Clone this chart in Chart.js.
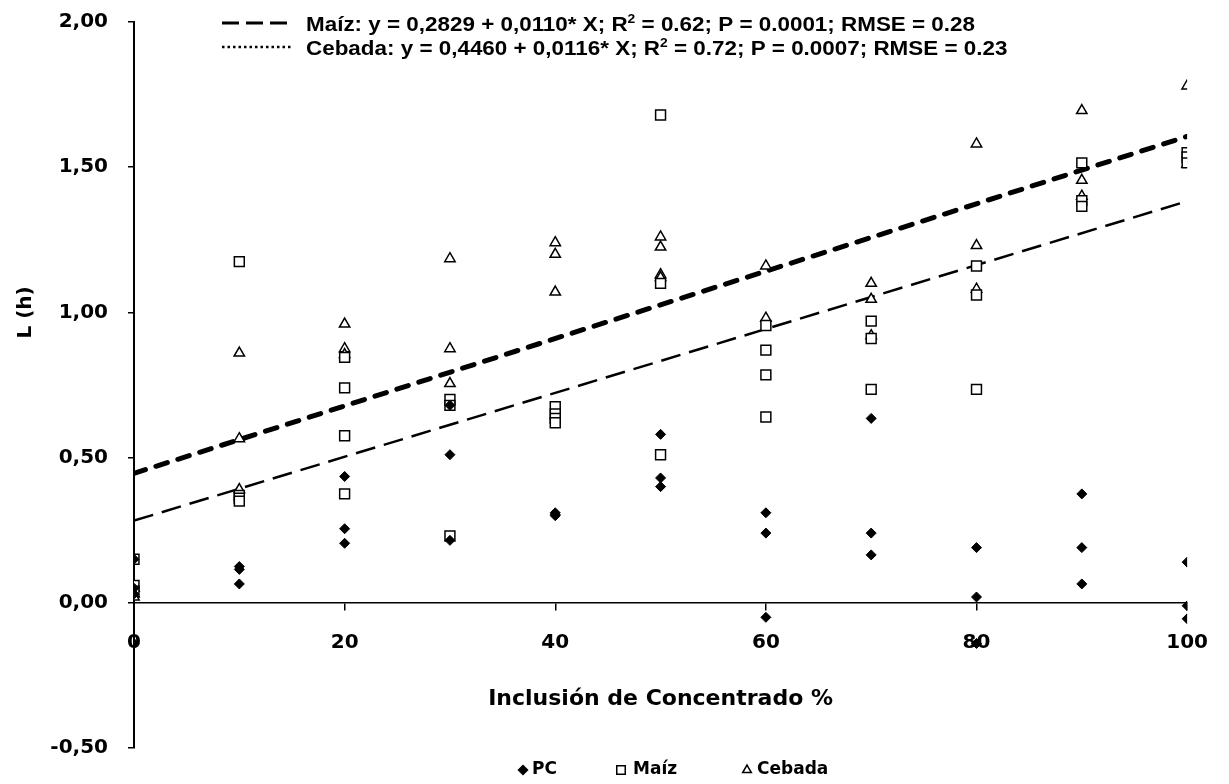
<!DOCTYPE html>
<html>
<head>
<meta charset="utf-8">
<script src="https://cdn.jsdelivr.net/npm/chart.js@4/dist/chart.umd.min.js"></script>
<style>
  html, body { margin: 0; padding: 0; background: #fff; }
  #wrap { width: 1229px; height: 784px; position: relative; }
</style>
</head>
<body>
<div id="wrap"><canvas id="chart"></canvas></div>
<script>
// concentrate inclusion levels (%)
const levels = [0, 10, 20, 30, 40, 50, 60, 70, 80, 90, 100];

// L (h), one list per level
const pcValues = [
  [0.15, 0.05, 0.03, -0.14],
  [0.125, 0.115, 0.065],
  [0.435, 0.255, 0.205],
  [0.68, 0.51, 0.215],
  [0.31, 0.305, 0.30],
  [0.58, 0.43, 0.40],
  [0.31, 0.24, -0.05],
  [0.635, 0.24, 0.165],
  [0.19, 0.02, -0.14],
  [0.375, 0.19, 0.065],
  [0.14, -0.01, -0.055],
];
const maizValues = [
  [0.15, 0.06, 0.04],
  [1.175, 0.37, 0.36, 0.35],
  [0.845, 0.74, 0.575, 0.375],
  [0.70, 0.68, 0.23],
  [0.675, 0.65, 0.635, 0.62],
  [1.68, 1.10, 0.51],
  [0.955, 0.87, 0.785, 0.64],
  [0.97, 0.91, 0.735],
  [1.16, 1.06, 0.735],
  [1.515, 1.385, 1.365],
  [1.55, 1.535, 1.515],
];
const cebadaValues = [
  [0.05, 0.03, 0.02],
  [0.86, 0.565, 0.39],
  [0.96, 0.875, 0.855],
  [1.185, 0.875, 0.755],
  [1.24, 1.20, 1.07],
  [1.26, 1.225, 1.13, 1.12],
  [1.16, 0.98],
  [1.10, 1.045, 0.92],
  [1.58, 1.23, 1.08],
  [1.695, 1.455, 1.40],
  [1.78, 1.51],
];

// regression: intercept, slope (from the legend)
const maizFit = [0.2829, 0.0110];
const cebadaFit = [0.4460, 0.0116];

const seriesNames = ['PC', 'Maíz', 'Cebada'];
const legendLines = [
  ['Maíz: y = 0,2829 + 0,0110* X; R', '2', ' = 0.62; P = 0.0001; RMSE = 0.28'],
  ['Cebada: y = 0,4460 + 0,0116* X; R', '2', ' = 0.72; P = 0.0007; RMSE = 0.23'],
];

const TICK_FONT = { family: 'DejaVu Sans', size: 20, weight: 'bold' };

function toPoints(values) {
  return levels.flatMap((x, i) => values[i].map(y => ({ x: x, y: y })));
}

function fitLine(fit) {
  return [0, 100].map(x => ({ x: x, y: fit[0] + fit[1] * x }));
}

function drawMarker(ctx, style, x, y, radius, fill) {
  if (Chart.helpers && Chart.helpers.drawPoint) {
    ctx.save();
    ctx.fillStyle = fill;
    ctx.strokeStyle = '#000';
    ctx.lineWidth = 1.5;
    Chart.helpers.drawPoint(ctx, { pointStyle: style, radius: radius, rotation: 0, borderWidth: 1.5 }, x, y);
    ctx.restore();
  }
}

const extras = {
  id: 'extras',
  afterDraw(chart) {
    const ctx = chart.ctx;

    // y axis title, centred between 0 and 2
    const yScale = chart.scales.y;
    const yMid = (yScale.getPixelForValue(0) + yScale.getPixelForValue(2)) / 2;
    ctx.save();
    ctx.translate(26, yMid);
    ctx.rotate(-Math.PI / 2);
    ctx.font = 'bold 20px "DejaVu Sans"';
    ctx.fillStyle = '#000';
    ctx.textAlign = 'center';
    ctx.textBaseline = 'middle';
    ctx.fillText('L (h)', 0, 0);
    ctx.restore();

    // top legend: line samples
    ctx.save();
    ctx.strokeStyle = '#000';
    ctx.lineWidth = 3;
    ctx.setLineDash([17, 7]);
    ctx.beginPath();
    ctx.moveTo(222, 23);
    ctx.lineTo(293, 23);
    ctx.stroke();
    ctx.lineWidth = 2.5;
    ctx.setLineDash([2.5, 3]);
    ctx.beginPath();
    ctx.moveTo(222, 47);
    ctx.lineTo(293, 47);
    ctx.stroke();
    ctx.restore();

    // top legend: equations
    const mainFont = 'bold 21px "Liberation Sans"';
    const supFont = 'bold 13px "Liberation Sans"';
    ctx.save();
    const l1 = legendLines[0];
    ctx.font = mainFont;
    let w1 = ctx.measureText(l1[0]).width + ctx.measureText(l1[2]).width;
    ctx.font = supFont;
    w1 += ctx.measureText(l1[1]).width;
    const sx = 669 / w1;
    ctx.restore();

    legendLines.forEach((parts, i) => {
      const base = 31 + i * 24;
      ctx.save();
      ctx.translate(306, base);
      ctx.scale(sx, 1);
      ctx.fillStyle = '#000';
      ctx.textBaseline = 'alphabetic';
      let x = 0;
      ctx.font = mainFont;
      ctx.fillText(parts[0], x, 0);
      x += ctx.measureText(parts[0]).width;
      ctx.font = supFont;
      ctx.fillText(parts[1], x, -8);
      x += ctx.measureText(parts[1]).width;
      ctx.font = mainFont;
      ctx.fillText(parts[2], x, 0);
      ctx.restore();
    });

    // bottom legend
    const ly = 770;
    const items = [
      { style: 'rectRot', r: 4.5, fill: '#000', mx: 523, tx: 532 },
      { style: 'rect', r: 6, fill: '#fff', mx: 621, tx: 633 },
      { style: 'triangle', r: 5, fill: '#fff', mx: 747, tx: 757 },
    ];
    ctx.save();
    ctx.font = 'bold 17px "DejaVu Sans"';
    ctx.textBaseline = 'middle';
    items.forEach((it, i) => {
      drawMarker(ctx, it.style, it.mx, ly, it.r, it.fill);
      ctx.fillStyle = '#000';
      ctx.fillText(seriesNames[i], it.tx, ly);
    });
    ctx.restore();
  }
};

new Chart(document.getElementById('chart'), {
  type: 'scatter',
  data: {
    datasets: [
      {
        label: seriesNames[0],
        data: toPoints(pcValues),
        pointStyle: 'rectRot',
        pointRadius: 5,
        backgroundColor: '#000',
        borderColor: '#000',
        borderWidth: 1,
      },
      {
        label: seriesNames[1],
        data: toPoints(maizValues),
        pointStyle: 'rect',
        pointRadius: 7,
        backgroundColor: '#fff',
        borderColor: '#000',
        borderWidth: 1.5,
      },
      {
        label: seriesNames[2],
        data: toPoints(cebadaValues),
        pointStyle: 'triangle',
        pointRadius: 6,
        backgroundColor: '#fff',
        borderColor: '#000',
        borderWidth: 1.5,
      },
      {
        label: 'Maíz fit',
        data: fitLine(maizFit),
        showLine: true,
        pointRadius: 0,
        borderColor: '#000',
        borderWidth: 2.5,
        borderDash: [20, 9],
      },
      {
        label: 'Cebada fit',
        data: fitLine(cebadaFit),
        showLine: true,
        pointRadius: 0,
        borderColor: '#000',
        borderWidth: 5,
        borderDash: [12, 11],
        borderCapStyle: 'round',
      },
    ],
  },
  options: {
    responsive: true,
    maintainAspectRatio: false,
    animation: false,
    devicePixelRatio: 1,
    layout: { padding: { left: 0, right: 38, top: 22, bottom: 36 } },
    plugins: {
      legend: { display: false },
      tooltip: { enabled: false },
    },
    scales: {
      x: {
        type: 'linear',
        position: { y: 0 },
        min: 0,
        max: 100,
        ticks: { stepSize: 20, color: '#000', font: TICK_FONT, padding: 21 },
        grid: { drawOnChartArea: false, drawTicks: true, tickLength: 7, color: '#000', lineWidth: 1.5 },
        border: { color: '#000', width: 1.5 },
        title: {
          display: true,
          text: 'Inclusión de Concentrado %',
          color: '#000',
          font: { family: 'DejaVu Sans', size: 22, weight: 'bold' },
          padding: { top: 10, bottom: 0 },
        },
      },
      y: {
        min: -0.5,
        max: 2,
        ticks: {
          stepSize: 0.5,
          color: '#000',
          font: TICK_FONT,
          padding: 20,
          callback: v => v.toFixed(2).replace('.', ','),
        },
        grid: { drawOnChartArea: false, drawTicks: true, tickLength: 6, color: '#000', lineWidth: 1.5 },
        border: { color: '#000', width: 2 },
        afterFit: scale => {
          scale.width = 134;
          scale.paddingTop = 0;
          scale.paddingBottom = 0;
        },
      },
    },
  },
  plugins: [extras],
});
</script>
</body>
</html>
